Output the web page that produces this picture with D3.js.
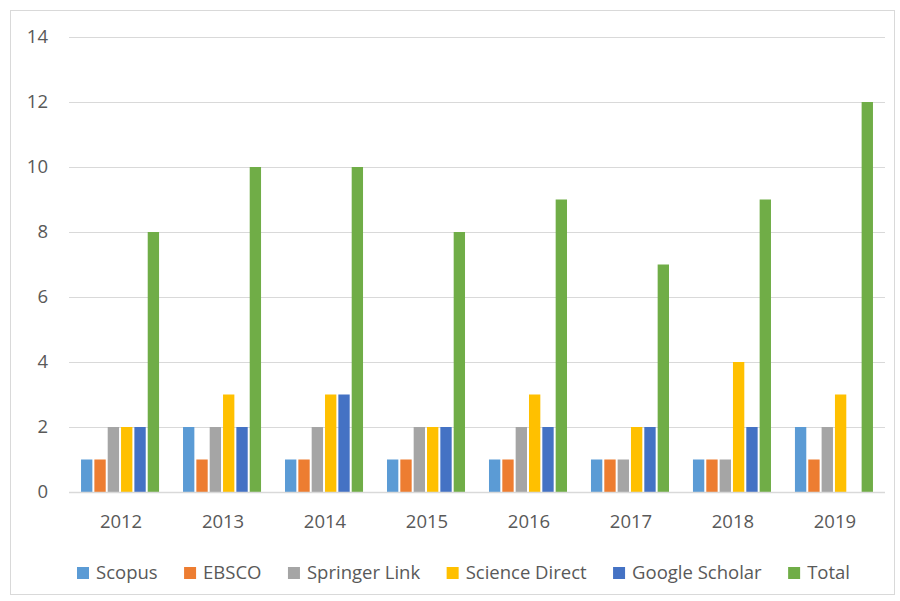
<!DOCTYPE html>
<html>
<head>
<meta charset="utf-8">
<script src="https://cdn.jsdelivr.net/npm/d3@7"></script>
<style>
  body { margin: 0; background: #fff; }
  text { font-family: "Open Sans", "Noto Sans", sans-serif; fill: #595959; }
</style>
</head>
<body>
<svg id="chart" width="900" height="601"></svg>
<script>
// data
var years = ['2012', '2013', '2014', '2015', '2016', '2017', '2018', '2019'];
var seriesNames = ['Scopus', 'EBSCO', 'Springer Link', 'Science Direct', 'Google Scholar', 'Total'];
var scopus = [1, 2, 1, 1, 1, 1, 1, 2];
var ebsco = [1, 1, 1, 1, 1, 1, 1, 1];
var springer = [2, 2, 2, 2, 2, 1, 1, 2];
var scienceDirect = [2, 3, 3, 2, 3, 2, 4, 3];
var googleScholar = [2, 2, 3, 2, 2, 2, 2, 0];
var total = [8, 10, 10, 8, 9, 7, 9, 12];
var yTicks = [0, 2, 4, 6, 8, 10, 12, 14];

var colors = ['#5b9bd5', '#ed7d31', '#a5a5a5', '#ffc000', '#4472c4', '#70ad47'];
var seriesValues = [scopus, ebsco, springer, scienceDirect, googleScholar, total];

var svg = d3.select('#chart');

// outer chart border
svg.append('rect')
    .attr('x', 10.5).attr('y', 10.5)
    .attr('width', 884).attr('height', 584)
    .attr('fill', 'none')
    .attr('stroke', '#d9d9d9');

var plotLeft = 69, plotRight = 885, plotTop = 37, plotBottom = 492;

var x = d3.scaleBand().domain(years).range([plotLeft, plotRight]).paddingInner(0.235).paddingOuter(0.118);
var x1 = d3.scaleBand().domain(seriesNames).range([0, x.bandwidth()]).paddingInner(0.15);
var y = d3.scaleLinear().domain([0, 14]).range([plotBottom, plotTop]);

// gridlines
svg.append('g').selectAll('line')
    .data(yTicks.filter(function(d) { return d > 0; }))
    .enter().append('line')
    .attr('x1', plotLeft).attr('x2', plotRight)
    .attr('y1', function(d) { return y(d) + 0.5; })
    .attr('y2', function(d) { return y(d) + 0.5; })
    .attr('stroke', '#d9d9d9')
    .attr('stroke-width', 1);

// y labels
svg.append('g').selectAll('text')
    .data(yTicks)
    .enter().append('text')
    .attr('x', 48)
    .attr('y', function(d) { return y(d); })
    .attr('dy', '0.35em')
    .attr('text-anchor', 'end')
    .style('font-size', '18.5px')
    .text(function(d) { return d; });

// bars
var groups = svg.append('g').selectAll('g')
    .data(years)
    .enter().append('g')
    .attr('transform', function(d) { return 'translate(' + x(d) + ',0)'; });

groups.selectAll('rect')
    .data(function(d, i) {
        return seriesNames.map(function(s, k) { return {name: s, value: seriesValues[k][i], color: colors[k]}; });
    })
    .enter().append('rect')
    .attr('x', function(d) { return x1(d.name); })
    .attr('width', x1.bandwidth())
    .attr('y', function(d) { return y(d.value); })
    .attr('height', function(d) { return y(0) - y(d.value); })
    .attr('fill', function(d) { return d.color; });

// baseline
svg.append('line')
    .attr('x1', plotLeft).attr('x2', plotRight)
    .attr('y1', plotBottom + 0.5).attr('y2', plotBottom + 0.5)
    .attr('stroke', '#d9d9d9')
    .attr('stroke-width', 1.5);

// x labels
svg.append('g').selectAll('text')
    .data(years)
    .enter().append('text')
    .attr('x', function(d) { return x(d) + x.bandwidth() / 2 + 1; })
    .attr('y', 522)
    .attr('dy', '0.35em')
    .attr('text-anchor', 'middle')
    .style('font-size', '18.5px')
    .text(function(d) { return d; });

// legend
var legend = svg.append('g');
var items = legend.selectAll('g')
    .data(seriesNames)
    .enter().append('g');
items.append('rect')
    .attr('width', 12).attr('height', 12)
    .attr('y', -6)
    .attr('fill', function(d, i) { return colors[i]; });
items.append('text')
    .attr('x', 19)
    .attr('dy', '0.35em')
    .style('font-size', '18.5px')
    .text(function(d) { return d; });

var widths = [];
items.each(function() { widths.push(d3.select(this).select('text').node().getComputedTextLength() + 19); });
var legendStart = 77, legendEnd = 850;
var gap = (legendEnd - legendStart - d3.sum(widths)) / (widths.length - 1);
var pos = legendStart;
items.attr('transform', function(d, i) {
    var t = 'translate(' + pos + ',573)';
    pos += widths[i] + gap;
    return t;
});
</script>
</body>
</html>
